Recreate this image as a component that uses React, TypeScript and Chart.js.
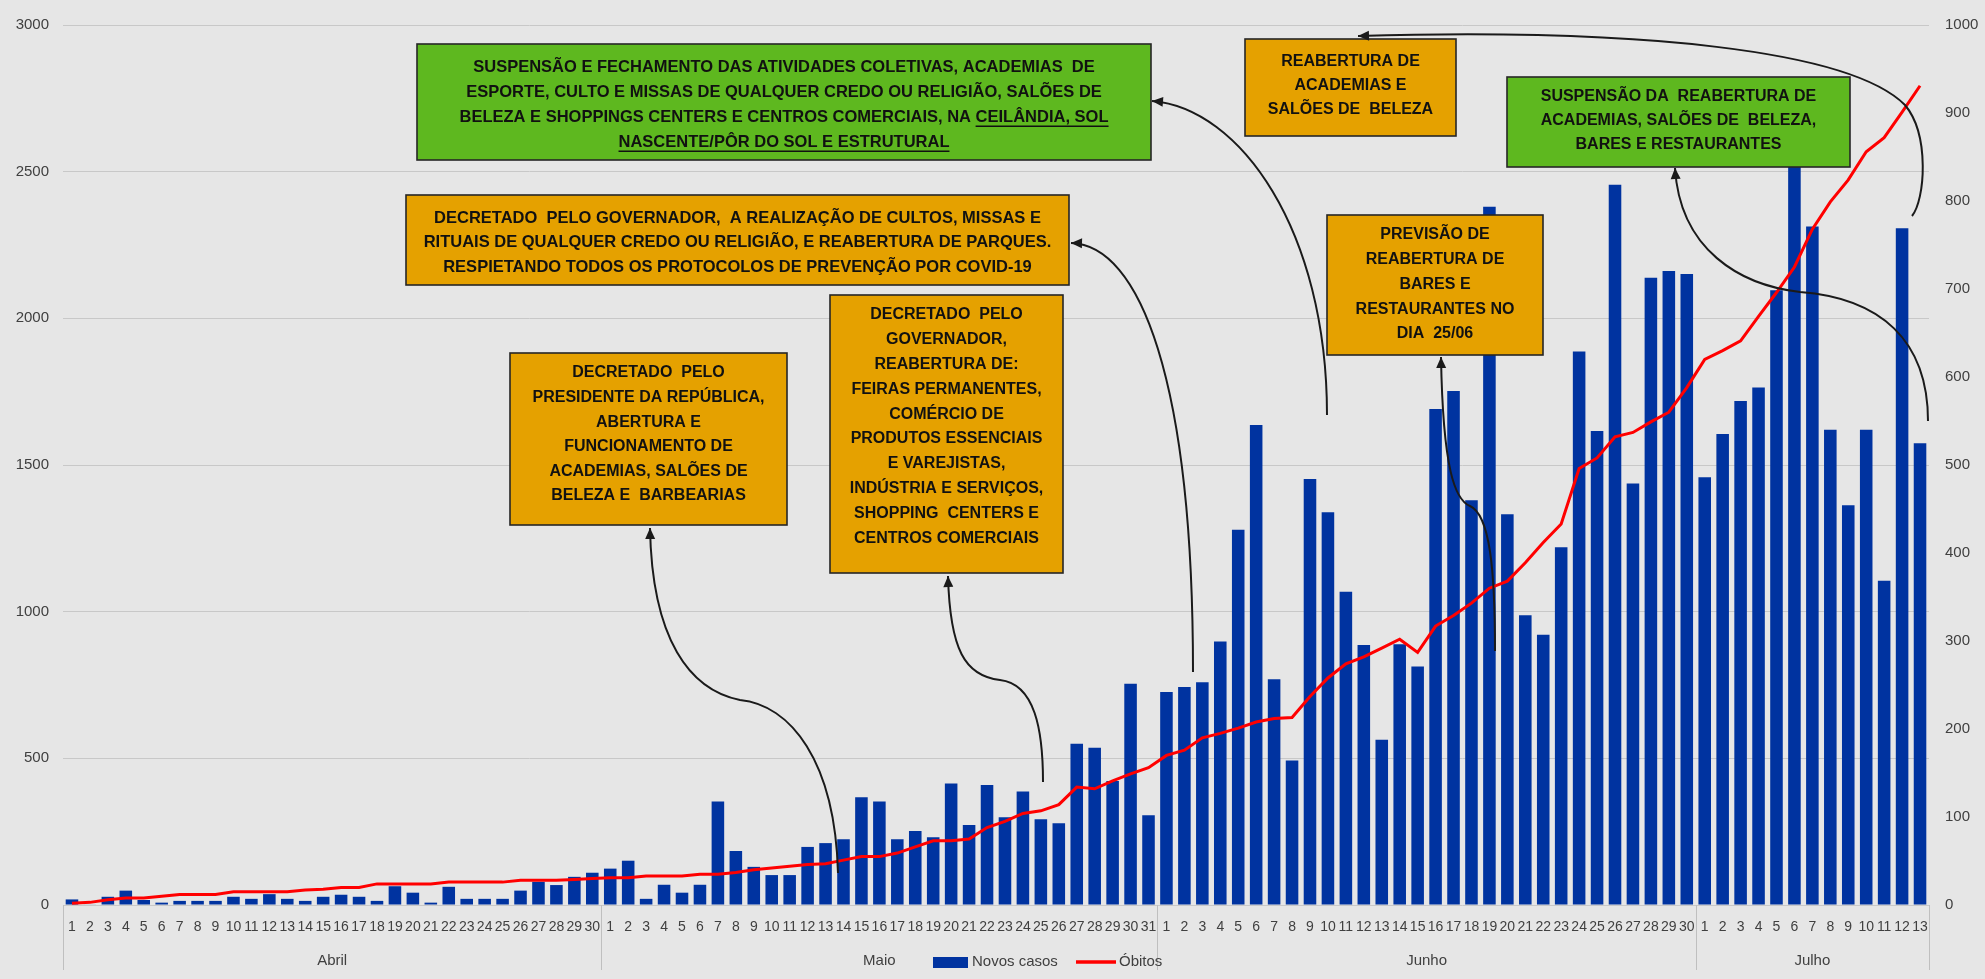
import React, { useEffect, useRef } from 'react';
import { Chart, registerables } from 'chart.js';

Chart.register(...registerables);

const W = 1985;
const H = 979;
const FONT = "'Liberation Sans', Arial, sans-serif";

// ---- categories ----
const meses = ['Abril', 'Maio', 'Junho', 'Julho'];
const diasAbril = [1, 2, 3, 4, 5, 6, 7, 8, 9, 10, 11, 12, 13, 14, 15, 16, 17, 18, 19, 20, 21, 22, 23, 24, 25, 26, 27, 28, 29, 30];
const diasMaio = [1, 2, 3, 4, 5, 6, 7, 8, 9, 10, 11, 12, 13, 14, 15, 16, 17, 18, 19, 20, 21, 22, 23, 24, 25, 26, 27, 28, 29, 30, 31];
const diasJunho = [1, 2, 3, 4, 5, 6, 7, 8, 9, 10, 11, 12, 13, 14, 15, 16, 17, 18, 19, 20, 21, 22, 23, 24, 25, 26, 27, 28, 29, 30];
const diasJulho = [1, 2, 3, 4, 5, 6, 7, 8, 9, 10, 11, 12, 13];

// ---- series: Novos casos (left axis) ----
const casosAbril = [19, 2, 28, 49, 17, 8, 14, 14, 14, 28, 21, 37, 21, 14, 28, 35, 28, 14, 64, 42, 8, 62, 21, 21, 21, 49, 79, 68, 96, 110];
const casosMaio = [124, 151, 21, 69, 42, 69, 353, 184, 130, 102, 102, 198, 211, 224, 367, 353, 224, 252, 231, 414, 273, 409, 299, 387, 292, 279, 550, 536, 423, 754, 306];
const casosJunho = [726, 743, 759, 898, 1279, 1636, 770, 493, 1452, 1339, 1068, 886, 563, 889, 813, 1691, 1752, 1380, 2380, 1332, 988, 921, 1220, 1887, 1616, 2455, 1437, 2138, 2161, 2151];
const casosJulho = [1458, 1606, 1718, 1764, 2096, 2540, 2313, 1620, 1363, 1620, 1105, 2307, 1574];

// ---- series: Óbitos (right axis) ----
const obitosAbril = [2, 3, 6, 8, 8, 10, 12, 12, 12, 15, 15, 15, 15, 17, 18, 20, 20, 24, 24, 24, 24, 26, 26, 26, 26, 28, 28, 28, 29, 30];
const obitosMaio = [31, 31, 33, 33, 33, 35, 35, 37, 40, 42, 44, 46, 47, 51, 55, 55, 59, 66, 73, 73, 75, 88, 95, 104, 107, 114, 134, 132, 141, 149, 156];
const obitosJunho = [170, 176, 190, 195, 201, 208, 212, 213, 237, 258, 274, 282, 292, 302, 287, 317, 329, 343, 360, 368, 389, 412, 433, 496, 508, 532, 537, 549, 560, 588];
const obitosJulho = [620, 630, 641, 669, 696, 725, 768, 799, 824, 856, 872, 901, 931];

// ---- tick labels ----
const ticksEsquerda = [0, 500, 1000, 1500, 2000, 2500, 3000];
const ticksDireita = [0, 100, 200, 300, 400, 500, 600, 700, 800, 900, 1000];

const serieNome = 'Novos casos';
const linhaNome = 'Óbitos';

const diasPorMes = [diasAbril, diasMaio, diasJunho, diasJulho];
const labels = diasPorMes.flat().map(String);
const casos = [...casosAbril, ...casosMaio, ...casosJunho, ...casosJulho];
const obitos = [...obitosAbril, ...obitosMaio, ...obitosJunho, ...obitosJulho];

// ---- annotations (layout) ----
const ORANGE = '#E5A100';
const GREEN = '#5EB81F';

type Seg = [string, boolean];
interface Box { x: number; y: number; w: number; h: number; color: string; y0: number; dy: number; size: number; lines: Seg[][] }

const boxes: Box[] = [
  {
    x: 417, y: 44, w: 734, h: 116, color: GREEN, y0: 67, dy: 25, size: 16.5,
    lines: [
      [['SUSPENSÃO E FECHAMENTO DAS ATIVIDADES COLETIVAS, ACADEMIAS  DE', false]],
      [['ESPORTE, CULTO E MISSAS DE QUALQUER CREDO OU RELIGIÃO, SALÕES DE', false]],
      [['BELEZA E SHOPPINGS CENTERS E CENTROS COMERCIAIS, NA ', false], ['CEILÂNDIA, SOL', true]],
      [['NASCENTE/PÔR DO SOL E ESTRUTURAL', true]],
    ],
  },
  {
    x: 406, y: 195, w: 663, h: 90, color: ORANGE, y0: 218, dy: 24.5, size: 16.5,
    lines: [
      [['DECRETADO  PELO GOVERNADOR,  A REALIZAÇÃO DE CULTOS, MISSAS E', false]],
      [['RITUAIS DE QUALQUER CREDO OU RELIGIÃO, E REABERTURA DE PARQUES.', false]],
      [['RESPIETANDO TODOS OS PROTOCOLOS DE PREVENÇÃO POR COVID-19', false]],
    ],
  },
  {
    x: 510, y: 353, w: 277, h: 172, color: ORANGE, y0: 373, dy: 24.6, size: 16,
    lines: [
      [['DECRETADO  PELO', false]],
      [['PRESIDENTE DA REPÚBLICA,', false]],
      [['ABERTURA E', false]],
      [['FUNCIONAMENTO DE', false]],
      [['ACADEMIAS, SALÕES DE', false]],
      [['BELEZA E  BARBEARIAS', false]],
    ],
  },
  {
    x: 830, y: 295, w: 233, h: 278, color: ORANGE, y0: 315, dy: 24.8, size: 16,
    lines: [
      [['DECRETADO  PELO', false]],
      [['GOVERNADOR,', false]],
      [['REABERTURA DE:', false]],
      [['FEIRAS PERMANENTES,', false]],
      [['COMÉRCIO DE', false]],
      [['PRODUTOS ESSENCIAIS', false]],
      [['E VAREJISTAS,', false]],
      [['INDÚSTRIA E SERVIÇOS,', false]],
      [['SHOPPING  CENTERS E', false]],
      [['CENTROS COMERCIAIS', false]],
    ],
  },
  {
    x: 1245, y: 39, w: 211, h: 97, color: ORANGE, y0: 62, dy: 24, size: 16,
    lines: [
      [['REABERTURA DE', false]],
      [['ACADEMIAS E', false]],
      [['SALÕES DE  BELEZA', false]],
    ],
  },
  {
    x: 1327, y: 215, w: 216, h: 140, color: ORANGE, y0: 235, dy: 24.7, size: 16,
    lines: [
      [['PREVISÃO DE', false]],
      [['REABERTURA DE', false]],
      [['BARES E', false]],
      [['RESTAURANTES NO', false]],
      [['DIA  25/06', false]],
    ],
  },
  {
    x: 1507, y: 77, w: 343, h: 90, color: GREEN, y0: 97, dy: 24, size: 16,
    lines: [
      [['SUSPENSÃO DA  REABERTURA DE', false]],
      [['ACADEMIAS, SALÕES DE  BELEZA,', false]],
      [['BARES E RESTAURANTES', false]],
    ],
  },
];

type Curve = [number, number, number, number, number, number];
interface Arrow { start: [number, number]; segs: Curve[] }
const arrows: Arrow[] = [
  { start: [650, 528], segs: [[652, 640, 690, 690, 740, 700], [790, 705, 835, 760, 838, 873]] },
  { start: [948, 576], segs: [[950, 650, 965, 676, 1000, 680], [1035, 684, 1043, 730, 1043, 782]] },
  { start: [1071, 243], segs: [[1140, 245, 1193, 380, 1193, 672]] },
  { start: [1152, 101], segs: [[1240, 108, 1327, 230, 1327, 415]] },
  { start: [1358, 36], segs: [[1640, 28, 1850, 50, 1905, 105], [1930, 135, 1925, 200, 1912, 216]] },
  { start: [1675, 168], segs: [[1680, 250, 1740, 285, 1800, 292], [1880, 298, 1928, 340, 1928, 421]] },
  { start: [1441, 357], segs: [[1443, 470, 1455, 500, 1470, 506], [1490, 515, 1495, 570, 1495, 651]] },
];

const overlayPlugin = {
  id: 'overlay',
  beforeDraw(chart: any) {
    const ctx = chart.ctx;
    ctx.save();
    ctx.fillStyle = '#E6E6E6';
    ctx.fillRect(0, 0, chart.width, chart.height);
    ctx.restore();
  },
  afterDraw(chart: any) {
    const ctx: CanvasRenderingContext2D = chart.ctx;
    const xs = chart.scales.x;
    const area = chart.chartArea;
    ctx.save();

    // month separators and labels
    const edges: number[] = [area.left];
    let idx = 0;
    diasPorMes.forEach((d, i) => {
      idx += d.length;
      if (i < diasPorMes.length - 1) {
        edges.push((xs.getPixelForValue(idx - 1) + xs.getPixelForValue(idx)) / 2);
      }
    });
    edges.push(area.right);
    ctx.strokeStyle = '#BFBFBF';
    ctx.lineWidth = 1;
    edges.forEach((e) => {
      const ex = Math.round(e) + 0.5;
      ctx.beginPath();
      ctx.moveTo(ex, area.bottom);
      ctx.lineTo(ex, 970);
      ctx.stroke();
    });
    ctx.fillStyle = '#404040';
    ctx.font = `15px ${FONT}`;
    ctx.textAlign = 'center';
    ctx.textBaseline = 'middle';
    meses.forEach((m, i) => {
      ctx.fillText(m, (edges[i] + edges[i + 1]) / 2, 961);
    });

    // legend
    ctx.fillStyle = '#0033A0';
    ctx.fillRect(933, 957, 35, 11);
    ctx.fillStyle = '#404040';
    ctx.textAlign = 'left';
    ctx.fillText(serieNome, 972, 962);
    ctx.strokeStyle = '#FF0000';
    ctx.lineWidth = 3.5;
    ctx.beginPath();
    ctx.moveTo(1076, 962);
    ctx.lineTo(1116, 962);
    ctx.stroke();
    ctx.fillText(linhaNome, 1119, 962);

    // boxes
    boxes.forEach((b) => {
      ctx.fillStyle = b.color;
      ctx.fillRect(b.x, b.y, b.w, b.h);
      ctx.strokeStyle = '#262626';
      ctx.lineWidth = 1.6;
      ctx.strokeRect(b.x, b.y, b.w, b.h);
      ctx.font = `bold ${b.size}px ${FONT}`;
      ctx.fillStyle = '#111111';
      ctx.textBaseline = 'middle';
      ctx.textAlign = 'left';
      b.lines.forEach((line, li) => {
        const full = line.map((s) => s[0]).join('');
        const tw = ctx.measureText(full).width;
        let cx = b.x + b.w / 2 - tw / 2;
        const cy = b.y0 + li * b.dy;
        line.forEach(([t, u]) => {
          const w = ctx.measureText(t).width;
          ctx.fillText(t, cx, cy);
          if (u) {
            ctx.strokeStyle = '#111111';
            ctx.lineWidth = 1.3;
            ctx.beginPath();
            ctx.moveTo(cx, cy + b.size * 0.5 + 1);
            ctx.lineTo(cx + w, cy + b.size * 0.5 + 1);
            ctx.stroke();
          }
          cx += w;
        });
      });
    });

    // arrows
    arrows.forEach((a) => {
      ctx.strokeStyle = '#1A1A1A';
      ctx.fillStyle = '#1A1A1A';
      ctx.lineWidth = 2;
      ctx.beginPath();
      ctx.moveTo(a.start[0], a.start[1]);
      a.segs.forEach((s) => ctx.bezierCurveTo(s[0], s[1], s[2], s[3], s[4], s[5]));
      ctx.stroke();
      const c = a.segs[0];
      let dx = a.start[0] - c[0];
      let dy = a.start[1] - c[1];
      const len = Math.hypot(dx, dy) || 1;
      dx /= len; dy /= len;
      const L = 11, Wd = 5;
      const bx = a.start[0] - dx * L, by = a.start[1] - dy * L;
      ctx.beginPath();
      ctx.moveTo(a.start[0], a.start[1]);
      ctx.lineTo(bx - dy * Wd, by + dx * Wd);
      ctx.lineTo(bx + dy * Wd, by - dx * Wd);
      ctx.closePath();
      ctx.fill();
    });

    ctx.restore();
  },
};

export default function App() {
  const ref = useRef<HTMLCanvasElement | null>(null);

  useEffect(() => {
    if (!ref.current) return;
    const tickFont = { family: FONT, size: 15 };
    const plain = (v: any) => String(v);
    const chart = new Chart(ref.current, {
      type: 'bar',
      data: {
        labels,
        datasets: [
          {
            type: 'line',
            label: linhaNome,
            data: obitos,
            yAxisID: 'y1',
            borderColor: '#FF0000',
            borderWidth: 3,
            pointRadius: 0,
            tension: 0,
            order: 0,
          } as any,
          {
            type: 'bar',
            label: serieNome,
            data: casos,
            yAxisID: 'y',
            backgroundColor: '#0033A0',
            borderWidth: 0,
            barPercentage: 0.7,
            categoryPercentage: 1,
            order: 1,
          } as any,
        ],
      },
      options: {
        responsive: false,
        animation: false,
        devicePixelRatio: 1,
        layout: { padding: { top: 19, left: 0, right: 0, bottom: 0 } },
        plugins: { legend: { display: false }, tooltip: { enabled: false } },
        scales: {
          x: {
            type: 'category',
            offset: true,
            grid: { display: false, drawTicks: false },
            border: { display: false },
            ticks: { autoSkip: false, maxRotation: 0, minRotation: 0, padding: 14, color: '#404040', font: { family: FONT, size: 14 } },
            afterFit: (s: any) => { s.height = 74; },
          },
          y: {
            position: 'left',
            min: 0,
            max: 3000,
            grid: { color: '#C8C8C8', drawTicks: false, lineWidth: 1 },
            border: { display: false },
            ticks: { padding: 14, color: '#404040', font: tickFont, callback: plain },
            afterBuildTicks: (s: any) => { s.ticks = ticksEsquerda.map((v) => ({ value: v })); },
            afterFit: (s: any) => { s.width = 63; },
          },
          y1: {
            position: 'right',
            min: 0,
            max: 1000,
            grid: { display: false, drawTicks: false },
            border: { display: false },
            ticks: { padding: 16, color: '#404040', font: tickFont, callback: plain },
            afterBuildTicks: (s: any) => { s.ticks = ticksDireita.map((v) => ({ value: v })); },
            afterFit: (s: any) => { s.width = 56; },
          },
        },
      } as any,
      plugins: [overlayPlugin],
    });
    return () => chart.destroy();
  }, []);

  return (
    <div style={{ position: 'absolute', left: 0, top: 0, width: W, height: H, background: '#E6E6E6', overflow: 'hidden' }}>
      <canvas ref={ref} width={W} height={H} style={{ display: 'block', width: W, height: H }} />
    </div>
  );
}
